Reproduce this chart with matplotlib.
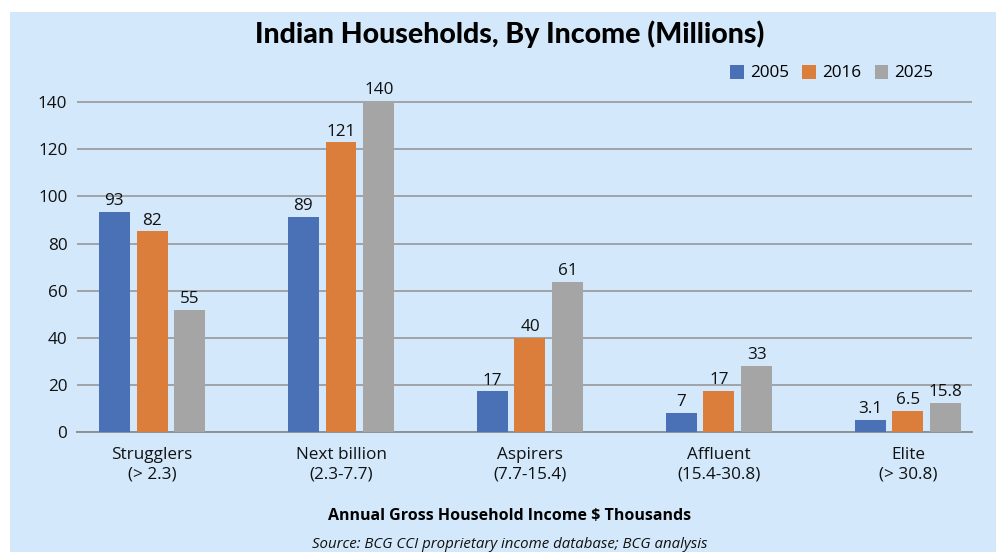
import matplotlib
matplotlib.use("Agg")
import matplotlib.pyplot as plt
from matplotlib.patches import Rectangle
import numpy as np

categories = ["Strugglers\n(> 2.3)", "Next billion\n(2.3-7.7)", "Aspirers\n(7.7-15.4)",
              "Affluent\n(15.4-30.8)", "Elite\n(> 30.8)"]
series_names = ["2005", "2016", "2025"]
# bar heights as drawn in the picture
values_2005 = [93.3, 91.2, 17.2, 8.2, 5.3]
values_2016 = [85.2, 123.0, 40.0, 17.6, 9.1]
values_2025 = [52.0, 140.5, 63.9, 28.2, 12.5]
# data labels as printed
labels_2005 = ["93", "89", "17", "7", "3.1"]
labels_2016 = ["82", "121", "40", "17", "6.5"]
labels_2025 = ["55", "140", "61", "33", "15.8"]
yticks = [0, 20, 40, 60, 80, 100, 120, 140]

colors = ["#4A70B5", "#DB7D3B", "#A5A5A5"]
bg = "#D3E8FA"
FONT = "Open Sans"
FS = 12.3

fig = plt.figure(figsize=(9.96, 5.52), dpi=100)
fig.patch.set_facecolor("white")
fig.patches.append(Rectangle((10/996, 0), 1 - 10/996, 1 - 12/552, transform=fig.transFigure,
                             facecolor=bg, edgecolor="none", zorder=-10))

ax = fig.add_axes([77/996, 120/552, 895/996, 341.5/552])
ax.set_facecolor("none")

x = np.arange(len(categories))
w = 0.164
off = 0.2
all_vals = [values_2005, values_2016, values_2025]
all_labs = [labels_2005, labels_2016, labels_2025]
for i, (vals, labs) in enumerate(zip(all_vals, all_labs)):
    pos = x + (i - 1) * off
    ax.bar(pos, vals, width=w, color=colors[i], label=series_names[i], zorder=3)
    for p, v, l in zip(pos, vals, labs):
        ax.annotate(l, (p, v), xytext=(0, 2), textcoords="offset points",
                    ha="center", va="bottom", fontsize=FS, family=FONT, color="#111111")

ax.set_xlim(-0.397, 4.339)
ax.set_ylim(0, 145)
ax.set_yticks(yticks)
ax.set_yticklabels([str(t) for t in yticks], family=FONT, fontsize=FS, color="#111111")
ax.set_xticks(x)
ax.set_xticklabels(categories, family=FONT, fontsize=FS, color="#111111", linespacing=1.25)
ax.tick_params(axis="both", length=0)
ax.tick_params(axis="y", pad=7)
ax.tick_params(axis="x", pad=11)
ax.yaxis.grid(True, color="#A0A4A8", linewidth=1.4, zorder=0)
ax.set_axisbelow(True)
for s in ["top", "right", "left"]:
    ax.spines[s].set_visible(False)
ax.spines["bottom"].set_color("#8C9196")
ax.spines["bottom"].set_linewidth(1.4)

leg = ax.legend(loc="center right", bbox_to_anchor=(942/996, 1 - 73/552), bbox_transform=fig.transFigure,
                ncol=3, frameon=False, handlelength=0.8, handleheight=0.9, handletextpad=0.35,
                columnspacing=0.8, borderpad=0, prop={"family": FONT, "size": FS})

fig.text(510/996, 1 - 34/552, "Indian Households, By Income (Millions)", ha="center", va="center",
         fontsize=20.5, fontweight="black", family="Lato", color="#000000")
fig.text(510/996, 1 - 516/552, "Annual Gross Household Income $ Thousands", ha="center", va="center",
         fontsize=11.5, fontweight="bold", family=FONT, color="#000000")
fig.text(510/996, 1 - 544/552, "Source: BCG CCI proprietary income database; BCG analysis", ha="center",
         va="center", fontsize=10.8, style="italic", family=FONT, color="#111111")

fig.savefig("out.png", dpi=100, facecolor=fig.get_facecolor())
